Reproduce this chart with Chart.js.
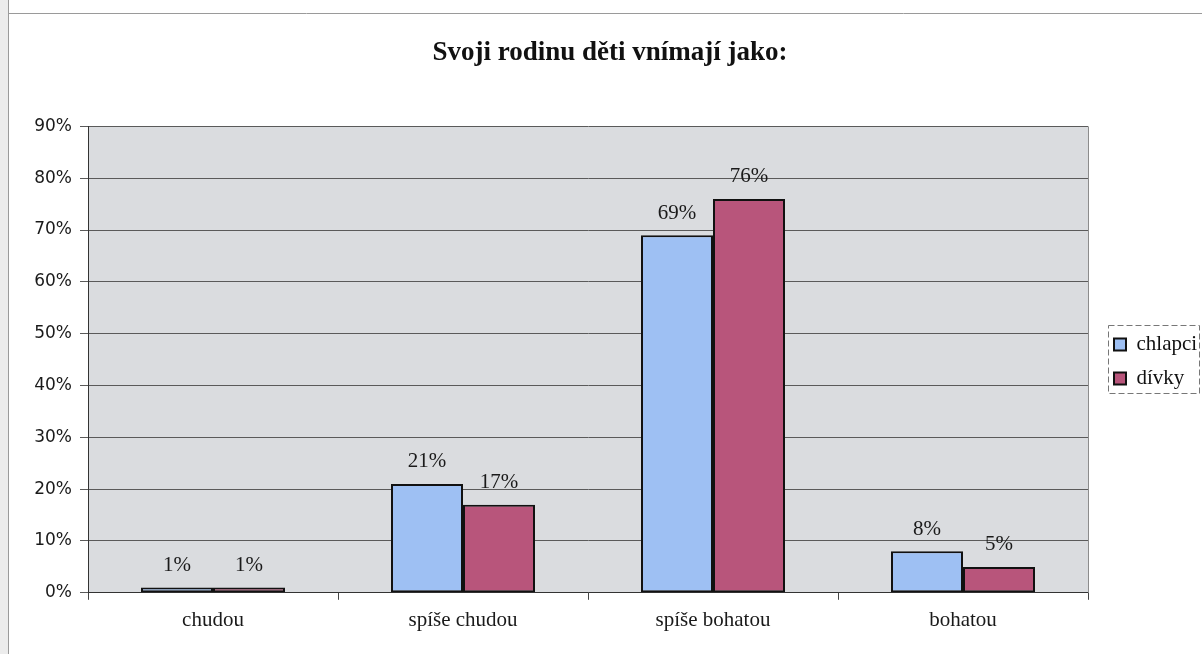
<!DOCTYPE html>
<html>
<head>
<meta charset="utf-8">
<script src="https://cdn.jsdelivr.net/npm/chart.js@4.4.1/dist/chart.umd.min.js"></script>
<style>
  html, body { margin: 0; padding: 0; background: #ffffff; }
  #wrap { width: 1202px; height: 654px; position: relative; }
</style>
</head>
<body>
<div id="wrap"><canvas id="c" width="1202" height="654"></canvas></div>
<script>
// Categories and percentages per group
const categories = ['chudou', 'spíše chudou', 'spíše bohatou', 'bohatou'];
const chlapci = [1, 21, 69, 8];
const divky = [1, 17, 76, 5];
const yMin = 0, yMax = 90, yStep = 10;

const SERIF = '"Liberation Serif", "Times New Roman", serif';
const SANS = '"DejaVu Sans", sans-serif';
const LEGEND_WIDTH = 114;   // space reserved right of the plot
const LEGEND_GAP = 13;      // gap between plot edge and legend

// Grey plot background, page edge and frame lines
const backdrop = {
  id: 'backdrop',
  beforeDraw(chart) {
    const { ctx, chartArea: a, width, height } = chart;
    ctx.save();
    ctx.fillStyle = '#ececec';
    ctx.fillRect(0, 0, 8, height);
    ctx.strokeStyle = '#9a9a9a';
    ctx.lineWidth = 1;
    ctx.beginPath();
    ctx.moveTo(8.5, 0); ctx.lineTo(8.5, height);
    ctx.moveTo(8, 13.5); ctx.lineTo(width, 13.5);
    ctx.stroke();
    ctx.fillStyle = '#dadcdf';
    ctx.fillRect(a.left, a.top, a.right - a.left, a.bottom - a.top);
    ctx.restore();
  },
  afterDraw(chart) {
    const { ctx, chartArea: a } = chart;
    ctx.save();
    // right border of the plot
    ctx.strokeStyle = '#8c8c8c';
    ctx.lineWidth = 1;
    ctx.beginPath();
    ctx.moveTo(Math.round(a.right) + 0.5, a.top);
    ctx.lineTo(Math.round(a.right) + 0.5, a.bottom);
    ctx.stroke();
    // dashed frame round the legend
    const boxes = chart.legend.legendHitBoxes;
    if (boxes && boxes.length) {
      const l = Math.min(...boxes.map(b => b.left)) - 6;
      const t = Math.min(...boxes.map(b => b.top)) - 9;
      const b = Math.max(...boxes.map(b => b.top + b.height)) + 4;
      ctx.strokeStyle = '#777';
      ctx.setLineDash([6, 3]);
      ctx.strokeRect(Math.round(l) + 0.5, Math.round(t) + 0.5, 1199 - Math.round(l), Math.round(b - t));
    }
    ctx.restore();
  }
};

// Fixed legend column beside the plot
const legendPlacement = {
  id: 'legendPlacement',
  beforeLayout(chart) {
    const lg = chart.legend;
    if (lg && !lg.__fixedWidth) {
      const fit = lg.fit.bind(lg);
      lg.fit = function () { fit(); this.width = LEGEND_WIDTH; };
      lg.__fixedWidth = true;
    }
  },
  afterLayout(chart) {
    const lg = chart.legend, a = chart.chartArea;
    lg.left = a.right + LEGEND_GAP;
    lg.right = lg.left + lg.width;
    lg.top = a.top + 2;
    lg.bottom = a.bottom + 2;
  }
};

// Percent labels above each bar
const valueLabels = {
  id: 'valueLabels',
  afterDatasetsDraw(chart) {
    const { ctx } = chart;
    ctx.save();
    ctx.font = '21px ' + SERIF;
    ctx.fillStyle = '#1a1a1a';
    ctx.textAlign = 'center';
    ctx.textBaseline = 'middle';
    chart.data.datasets.forEach((ds, i) => {
      chart.getDatasetMeta(i).data.forEach((bar, j) => {
        ctx.fillText(ds.data[j] + '%', bar.x, bar.y - 22);
      });
    });
    ctx.restore();
  }
};

new Chart(document.getElementById('c'), {
  type: 'bar',
  data: {
    labels: categories,
    datasets: [
      {
        label: 'chlapci',
        data: chlapci,
        backgroundColor: '#9ec0f3',
        borderColor: '#111111',
        borderWidth: 2,
        borderSkipped: false
      },
      {
        label: 'dívky',
        data: divky,
        backgroundColor: '#b8557b',
        borderColor: '#111111',
        borderWidth: 2,
        borderSkipped: false
      }
    ]
  },
  options: {
    responsive: false,
    animation: false,
    devicePixelRatio: 1,
    categoryPercentage: 0.576,
    barPercentage: 1.0,
    layout: { padding: { left: 18, right: 0, top: 0, bottom: 13 } },
    plugins: {
      title: {
        display: true,
        text: 'Svoji rodinu děti vnímají jako:',
        font: { family: SERIF, size: 27, weight: 'bold' },
        color: '#111111',
        padding: { top: 37, bottom: 57 }
      },
      legend: {
        position: 'right',
        labels: {
          boxWidth: 12,
          boxHeight: 12,
          padding: 13,
          color: '#111111',
          font: { family: SERIF, size: 21 }
        }
      },
      tooltip: { enabled: false }
    },
    scales: {
      x: {
        offset: true,
        grid: { offset: true, drawOnChartArea: false, drawTicks: true, tickLength: 7, color: '#444' },
        border: { color: '#333', width: 1 },
        ticks: { font: { family: SERIF, size: 21 }, color: '#1a1a1a', padding: 8 }
      },
      y: {
        min: yMin,
        max: yMax,
        afterFit(scale) { scale.width = 70; },
        grid: { color: '#5a5a5a', tickLength: 8 },
        border: { color: '#333', width: 1 },
        ticks: {
          stepSize: yStep,
          padding: 8,
          font: { family: SANS, size: 17 },
          color: '#1a1a1a',
          callback: v => v + '%'
        }
      }
    }
  },
  plugins: [backdrop, legendPlacement, valueLabels]
});
</script>
</body>
</html>
